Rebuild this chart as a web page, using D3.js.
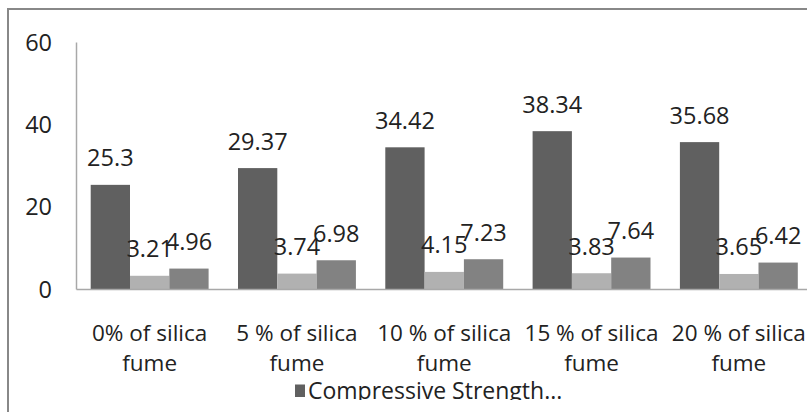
<!DOCTYPE html>
<html>
<head>
<meta charset="utf-8">
<script src="https://cdn.jsdelivr.net/npm/d3@7"></script>
<style>
  html, body { margin: 0; padding: 0; background: #fff; }
  svg { display: block; }
</style>
</head>
<body>
<script>
const categories = ["0% of silica fume", "5 % of silica fume", "10 % of silica fume", "15 % of silica fume", "20 % of silica fume"];
const categoryLines = [["0% of silica", "fume"], ["5 % of silica", "fume"], ["10 % of silica", "fume"], ["15 % of silica", "fume"], ["20 % of silica", "fume"]];
const seriesNames = ["Compressive Strength", "Split Tensile Strength", "Flexural Strength"];
const compressive = [25.3, 29.37, 34.42, 38.34, 35.68];
const splitTensile = [3.21, 3.74, 4.15, 3.83, 3.65];
const flexural = [4.96, 6.98, 7.23, 7.64, 6.42];
const yTicks = [0, 20, 40, 60];
const legendLabel = "Compressive Strength...";
const colors = ["#606060", "#b1b1b1", "#828282"];

const W = 807, H = 412;
const svg = d3.select("body").append("svg").attr("width", W).attr("height", H);

// chart border (only top/left visible)
svg.append("rect").attr("x", 8).attr("y", 9).attr("width", 900).attr("height", 500)
  .attr("fill", "none").attr("stroke", "#888").attr("stroke-width", 2);

const y = d3.scaleLinear().domain([0, 60]).range([289, 42]);
const x0 = d3.scaleBand().domain(categories).range([76, 812.5]).paddingInner(0).paddingOuter(0);
const x1 = d3.scaleBand().domain(seriesNames).range([0, x0.bandwidth()]).paddingInner(0).paddingOuter(0.374);

const seriesData = [compressive, splitTensile, flexural];

// y axis line
const yAxis = d3.axisLeft(y).tickValues(yTicks).tickSize(0).tickPadding(24);
const gy = svg.append("g").attr("transform", "translate(76,0)").call(yAxis);
gy.select(".domain").attr("stroke", "#a8a8a8").attr("stroke-width", 1.5);
gy.selectAll("text").attr("font-family", "'Open Sans', sans-serif").attr("font-size", 23.5)
  .attr("fill", "#222").attr("dy", null).attr("dominant-baseline", "auto")
  .attr("transform", "translate(0,8)");

// bars
seriesData.forEach((vals, si) => {
  svg.append("g").selectAll("rect").data(vals).join("rect")
    .attr("x", (d, i) => x0(categories[i]) + x1(seriesNames[si]))
    .attr("y", d => y(d))
    .attr("width", x1.bandwidth())
    .attr("height", d => y(0) - y(d))
    .attr("fill", colors[si]);
});

// baseline axis
const xAxis = d3.axisBottom(x0).tickSize(0).tickFormat("");
const gx = svg.append("g").attr("transform", "translate(0,289)").call(xAxis);
gx.select(".domain").attr("stroke", "#a8a8a8").attr("stroke-width", 1.5);

// data labels
seriesData.forEach((vals, si) => {
  svg.append("g").selectAll("text").data(vals).join("text")
    .attr("x", (d, i) => x0(categories[i]) + x1(seriesNames[si]) + x1.bandwidth() / 2)
    .attr("y", d => y(d) - 18.5)
    .attr("text-anchor", "middle")
    .attr("font-family", "'Open Sans', sans-serif")
    .attr("font-size", 23.5)
    .attr("fill", "#222")
    .text(d => String(d));
});

// category labels
const cat = svg.append("g");
categories.forEach((c, i) => {
  const t = cat.append("text")
    .attr("text-anchor", "middle")
    .attr("font-family", "'Open Sans', sans-serif")
    .attr("font-size", 22.5)
    .attr("fill", "#222");
  categoryLines[i].forEach((ln, li) => {
    t.append("tspan").attr("x", x0(c) + x0.bandwidth() / 2).attr("y", 340.5 + li * 30).text(ln);
  });
});

// legend (clipped)
svg.append("clipPath").attr("id", "lc").append("rect").attr("x", 0).attr("y", 0).attr("width", W).attr("height", 400);
const lg = svg.append("g").attr("clip-path", "url(#lc)");
lg.append("rect").attr("x", 295).attr("y", 384.5).attr("width", 10).attr("height", 12.5).attr("fill", colors[0]);
lg.append("text").attr("x", 308).attr("y", 398.5)
  .attr("font-family", "'Open Sans', sans-serif").attr("font-size", 23)
  .attr("fill", "#222").text(legendLabel);
</script>
</body>
</html>
